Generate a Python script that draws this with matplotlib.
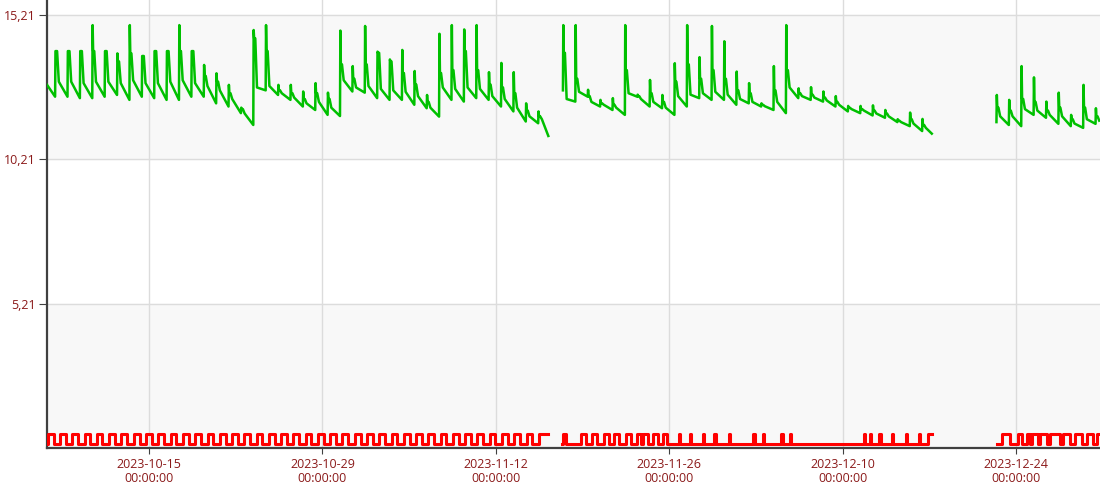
import numpy as np
import datetime as dt
import matplotlib
matplotlib.use('Agg')
import matplotlib.pyplot as plt
import matplotlib.dates as mdates
from matplotlib.ticker import FixedLocator, FuncFormatter

nan = np.nan
start = dt.datetime(2023, 10, 7)

# green series: one charge spike per day, index 0 = 2023-10-07
g_trough = [12.38, 12.38, 12.33, 12.33, 12.38, 12.44, 12.27, 12.38, 12.33, 12.27,
            12.27, 12.38, 12.38, 12.15, 12.04, 11.81, 11.40, 12.60, 12.44, 12.27,
            12.04, 11.92, 11.75, 11.71, 12.56, 12.52, 12.33, 12.27, 12.27, 12.10,
            11.98, 11.69, 12.27, 12.21, 12.33, 12.27, 12.04, 11.87, 11.52, 11.46,
            nan, 12.60, 12.21, 12.38, 12.04, 11.92, 11.75, 12.38, 12.04, 11.98,
            11.75, 12.04, 12.33, 12.27, 12.27, 12.10, 12.15, 12.04, 11.92, 11.81,
            12.33, 12.27, 12.21, 12.04, 11.87, 11.81, 11.73, 11.65, 11.50, 11.36,
            11.19, nan, nan, nan, nan, nan, 11.50, 11.40, 11.36, 11.75,
            11.65, 11.44, 11.36, 11.30, 11.44]
g_peak = [13.96, 13.96, 13.96, 14.86, 13.96, 13.88, 14.86, 13.79, 13.96, 13.96,
          14.86, 13.96, 13.48, 13.19, 12.79, 12.00, 14.69, 14.86, 12.79, 12.79,
          12.56, 12.85, 12.52, 14.67, 13.44, 14.83, 13.94, 13.67, 14.00, 13.27,
          12.44, 14.56, 14.86, 14.71, 14.86, 13.23, 13.55, 13.23, 12.15, 11.87,
          nan, 14.86, 14.86, 12.62, 12.27, 12.33, 14.86, 12.45, 12.96, 12.44,
          13.54, 14.86, 13.75, 14.83, 14.30, 13.25, 12.85, 12.15, 13.44, 14.86,
          12.67, 12.71, 12.56, 12.40, 12.06, 12.06, 12.08, 11.92, 11.60, 11.83,
          11.61, nan, nan, nan, nan, nan, 12.44, 12.27, 13.44, 13.05,
          12.21, 12.52, 11.75, 12.79, 11.98]
g_hold = [13.96, 13.96, 13.96, 13.96, 13.96, 13.60, 13.88, 13.79, 13.96, 13.96,
          13.96, 13.96, 13.10, 12.90, 12.50, 11.95, 14.40, 13.96, 12.60, 12.50,
          12.30, 12.50, 12.30, 13.50, 13.00, 13.50, 13.90, 13.60, 13.20, 12.80,
          12.20, 13.20, 13.30, 13.96, 13.30, 12.80, 12.70, 12.50, 11.90, 11.70,
          nan, 13.90, 13.00, 12.40, 12.15, 12.10, 13.30, 12.40, 12.50, 12.20,
          12.90, 13.50, 13.00, 13.30, 13.00, 12.60, 12.50, 12.10, 12.60, 13.30,
          12.50, 12.45, 12.35, 12.20, 12.00, 11.95, 11.90, 11.80, 11.55, 11.60,
          11.40, nan, nan, nan, nan, nan, 12.00, 11.90, 12.30, 12.20,
          11.90, 12.00, 11.60, 12.00, 11.70]
g_knee = [12.90, 12.90, 12.85, 12.90, 12.90, 12.85, 12.95, 12.85, 12.85, 12.90,
          12.95, 12.85, 12.75, 12.60, 12.30, 11.80, 12.70, 12.75, 12.50, 12.35,
          12.15, 12.20, 12.00, 12.95, 12.70, 12.75, 12.65, 12.60, 12.55, 12.40,
          12.00, 12.70, 12.65, 12.70, 12.65, 12.40, 12.30, 12.00, 11.70, 11.60,
          nan, 12.30, 12.55, 12.20, 12.10, 12.00, 12.50, 12.30, 12.20, 12.00,
          12.40, 12.45, 12.50, 12.55, 12.45, 12.30, 12.20, 12.05, 12.20, 12.70,
          12.40, 12.35, 12.25, 12.10, 11.95, 11.90, 11.80, 11.70, 11.50, 11.45,
          11.30, nan, nan, nan, nan, nan, 11.70, 11.70, 11.95, 11.90,
          11.75, 11.70, 11.45, 11.60, 11.55]
# loose green points at segment edges (days since start, value)
g_edges = [(-0.23, 12.79), (40.24, 11.02), (71.20, 11.10)]

# red series: on/off pulses (days since start)
red_on = [-0.13, 0.82, 1.80, 2.80, 3.78, 4.78, 5.76, 6.78, 7.78, 8.76,
          9.76, 10.76, 11.74, 12.74, 13.72, 14.72, 15.70, 16.70, 17.68, 18.68,
          19.66, 20.66, 21.65, 22.64, 23.62, 24.62, 25.60, 26.60, 27.58, 28.58,
          29.56, 30.56, 31.55, 32.54, 33.52, 34.52, 35.50, 36.50, 37.48, 38.48,
          39.46,
          41.45, 42.90, 43.80, 44.70, 45.55, 46.50, 47.40, 47.85, 48.70, 49.50,
          50.80, 51.70, 52.70, 53.60, 54.85, 56.80, 57.55, 59.05, 59.75,
          65.70, 66.20, 66.90, 68.00, 69.10, 70.20, 70.90,
          76.84, 78.19, 78.86, 79.27, 79.94, 80.75, 81.82, 82.76, 83.70, 84.55]
red_off = [0.33, 1.28, 2.26, 3.26, 4.24, 5.24, 6.22, 7.24, 8.24, 9.22,
           10.22, 11.22, 12.20, 13.20, 14.18, 15.18, 16.16, 17.16, 18.14, 19.14,
           20.12, 21.12, 22.11, 23.10, 24.08, 25.08, 26.06, 27.06, 28.04, 29.04,
           30.02, 31.02, 32.01, 33.00, 33.98, 34.98, 35.96, 36.96, 37.94, 38.94,
           40.30,
           41.70, 43.30, 44.20, 45.10, 45.95, 46.90, 47.70, 48.25, 49.10, 49.85,
           50.90, 51.78, 52.80, 53.80, 54.93, 56.90, 57.63, 59.15, 59.83,
           65.80, 66.28, 67.10, 68.06, 69.18, 70.28, 71.30,
           77.51, 78.46, 79.13, 79.80, 80.48, 81.55, 82.36, 83.30, 84.24, 85.00]
red_hi = 0.68
red_lo = 0.34
# logged segments (days since start)
segments = [(-0.23, 40.24), (41.37, 71.20), (76.44, 84.80)]

y_ticks = [5.21, 10.21, 15.21]
x_ticks = ['2023-10-15', '2023-10-29', '2023-11-12', '2023-11-26', '2023-12-10', '2023-12-24']

# build green line: trough -> spike -> short hold -> knee -> slow fall
pts = list(g_edges)
for d in range(len(g_peak)):
    if np.isnan(g_peak[d]):
        pts.append((d + 0.5, nan))
        continue
    pts += [(d + 0.42, g_trough[d]), (d + 0.45, g_peak[d]),
            (d + 0.49, g_hold[d]), (d + 0.58, g_hold[d]),
            (d + 0.72, g_knee[d])]
pts.sort(key=lambda p: p[0])
g_t = np.array([p[0] for p in pts])
g_v = np.array([p[1] for p in pts])


def red_level(t):
    for a, b in zip(red_on, red_off):
        if a <= t < b:
            return red_hi
    return red_lo


r_t, r_v = [], []
for s0, s1 in segments:
    r_t.append(s0)
    r_v.append(red_level(s0))
    for a, b in zip(red_on, red_off):
        if s0 < a < s1:
            r_t += [a, a]
            r_v += [red_lo, red_hi]
        if s0 < b < s1:
            r_t += [b, b]
            r_v += [red_hi, red_lo]
    r_t += [s1, s1]
    r_v += [red_level(s1 - 1e-6), nan]
r_t = np.array(r_t)
r_v = np.array(r_v)

t0 = mdates.date2num(start)

fig = plt.figure(figsize=(11, 4.88), dpi=100)
ax = fig.add_axes([47 / 1100, 40 / 488, 1053 / 1100, 448 / 488])

ax.axhspan(0.21, 5.21, color='#f8f8f8', zorder=0)
ax.axhspan(10.21, 15.21, color='#f8f8f8', zorder=0)

ax.plot(t0 + g_t, g_v, color='#00c000', lw=1.8, zorder=3, solid_joinstyle='round')
ax.plot(t0 + r_t, r_v, color='#ff0000', lw=2.2, zorder=3)

ax.set_ylim(0.21, 15.73)
ax.set_xlim(t0 - 0.234, t0 + 84.78)

xt = [mdates.date2num(dt.datetime.strptime(s, '%Y-%m-%d')) for s in x_ticks]
ax.xaxis.set_major_locator(FixedLocator(xt))
ax.set_xticklabels([s + '\n00:00:00' for s in x_ticks])
ax.yaxis.set_major_locator(FixedLocator(y_ticks))
ax.yaxis.set_major_formatter(FuncFormatter(lambda v, p: '{:.2f}'.format(v).replace('.', ',')))

ax.grid(True, color='#dcdcdc', lw=1.0, zorder=1)
ax.set_axisbelow(True)

for side in ['top', 'right']:
    ax.spines[side].set_visible(False)
for side in ['left', 'bottom']:
    ax.spines[side].set_color('#404040')
    ax.spines[side].set_linewidth(1.6)

ax.tick_params(axis='x', length=4, color='#404040', pad=3, labelsize=9, labelcolor='#8b1a1a')
ax.tick_params(axis='y', length=6, color='#404040', pad=2, labelsize=9, labelcolor='#8b1a1a')
for lbl in ax.get_xticklabels() + ax.get_yticklabels():
    lbl.set_family(['Open Sans', 'DejaVu Sans'])
for lbl in ax.get_xticklabels():
    lbl.set_linespacing(1.1)

fig.savefig('out.png', dpi=100)
